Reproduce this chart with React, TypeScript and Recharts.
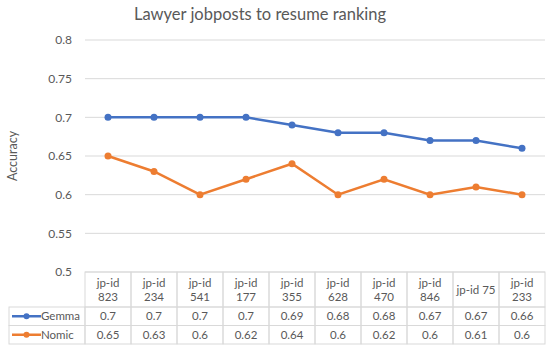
import React from "react";
import { LineChart, Line, XAxis, YAxis, CartesianGrid } from "recharts";

const categories = [
  "jp-id 823",
  "jp-id 234",
  "jp-id 541",
  "jp-id 177",
  "jp-id 355",
  "jp-id 628",
  "jp-id 470",
  "jp-id 846",
  "jp-id 75",
  "jp-id 233",
];
const gemma = [0.7, 0.7, 0.7, 0.7, 0.69, 0.68, 0.68, 0.67, 0.67, 0.66];
const nomic = [0.65, 0.63, 0.6, 0.62, 0.64, 0.6, 0.62, 0.6, 0.61, 0.6];
const yTicks = [0.5, 0.55, 0.6, 0.65, 0.7, 0.75, 0.8];

const seriesNames = ["Gemma", "Nomic"];
const seriesColors = ["#4472C4", "#ED7D31"];

const data = categories.map((name, i) => ({ name, gemma: gemma[i], nomic: nomic[i] }));

const FONT = "Lato, 'Open Sans', sans-serif";
const TEXT = "#595959";
const BORDER = "#d9d9d9";

const PLOT_LEFT = 85;
const PLOT_BOTTOM = 272;
const COL_W = 46;
const HEAD_BOTTOM = 307;
const ROW_H = 18.5;
const TABLE_LEFT = 9;

function TableTick(props: any) {
  const { x, payload } = props;
  const i = payload.index;
  const label: string = payload.value;
  const left = x - COL_W / 2;
  const wrap = label.length > 8;
  const parts = wrap ? [label.slice(0, label.indexOf(" ")), label.slice(label.indexOf(" ") + 1)] : [label];
  const values = [gemma[i], nomic[i]];
  return (
    <g fontFamily={FONT} fill={TEXT}>
      <rect x={left} y={PLOT_BOTTOM} width={COL_W} height={HEAD_BOTTOM - PLOT_BOTTOM} fill="none" stroke={BORDER} />
      {parts.length === 2 ? (
        <>
          <text x={x} y={287} textAnchor="middle" fontSize={11.5}>{parts[0]}</text>
          <text x={x} y={301} textAnchor="middle" fontSize={11.5}>{parts[1]}</text>
        </>
      ) : (
        <text x={x} y={294} textAnchor="middle" fontSize={11.5}>{parts[0]}</text>
      )}
      {values.map((v, r) => (
        <g key={r}>
          <rect x={left} y={HEAD_BOTTOM + r * ROW_H} width={COL_W} height={ROW_H} fill="none" stroke={BORDER} />
          <text x={x} y={HEAD_BOTTOM + r * ROW_H + 13} textAnchor="middle" fontSize={11.5}>{v}</text>
        </g>
      ))}
      {i === 0 &&
        seriesNames.map((s, r) => {
          const cy = HEAD_BOTTOM + r * ROW_H + ROW_H / 2;
          return (
            <g key={s}>
              <rect x={TABLE_LEFT} y={HEAD_BOTTOM + r * ROW_H} width={PLOT_LEFT - TABLE_LEFT} height={ROW_H} fill="none" stroke={BORDER} />
              <line x1={12} x2={41} y1={cy} y2={cy} stroke={seriesColors[r]} strokeWidth={2.5} />
              <circle cx={26.5} cy={cy} r={3} fill={seriesColors[r]} />
              <text x={41} y={cy + 4} fontSize={11.5}>{s}</text>
            </g>
          );
        })}
    </g>
  );
}

function YLabel() {
  return (
    <text x={17} y={156} transform="rotate(-90 17 156)" textAnchor="middle" fontFamily={FONT} fontSize={12.5} fill={TEXT}>
      Accuracy
    </text>
  );
}

export default function App() {
  return (
    <div style={{ position: "absolute", left: 0, top: 0, width: 550, height: 350, background: "#fff" }}>
      <LineChart width={550} height={350} data={data} margin={{ top: 40, right: 5, bottom: 0, left: 0 }}>
        <text x={260} y={20} textAnchor="middle" fontFamily={FONT} fontSize={16.5} fill={TEXT}>
          Lawyer jobposts to resume ranking
        </text>
        <CartesianGrid vertical={false} stroke={BORDER} />
        <XAxis
          dataKey="name"
          height={78}
          padding={{ left: COL_W / 2, right: COL_W / 2 }}
          axisLine={false}
          tickLine={false}
          interval={0}
          tick={<TableTick />}
        />
        <YAxis
          width={85}
          domain={[0.5, 0.8]}
          ticks={yTicks}
          axisLine={false}
          tickLine={false}
          tickSize={0}
          tickMargin={13}
          tick={{ fill: TEXT, fontSize: 12, fontFamily: FONT }}
          label={<YLabel />}
        />
        <Line
          dataKey="gemma"
          name={seriesNames[0]}
          stroke={seriesColors[0]}
          strokeWidth={2.5}
          dot={{ r: 3.5, fill: seriesColors[0], stroke: seriesColors[0], strokeWidth: 0 }}
          isAnimationActive={false}
        />
        <Line
          dataKey="nomic"
          name={seriesNames[1]}
          stroke={seriesColors[1]}
          strokeWidth={2.5}
          dot={{ r: 3.5, fill: seriesColors[1], stroke: seriesColors[1], strokeWidth: 0 }}
          isAnimationActive={false}
        />
      </LineChart>
    </div>
  );
}
